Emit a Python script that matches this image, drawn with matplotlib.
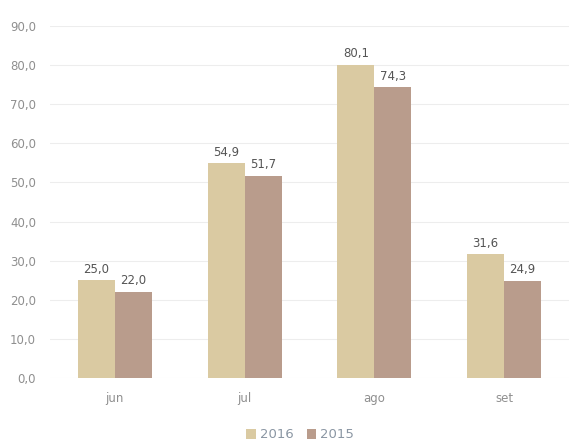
import numpy as np
from matplotlib import pyplot as plt

# data
months = ["jun", "jul", "ago", "set"]
series_names = ["2016", "2015"]
vals_2016 = [25.0, 54.9, 80.1, 31.6]
vals_2015 = [22.0, 51.7, 74.3, 24.9]
yticks = [0, 10, 20, 30, 40, 50, 60, 70, 80, 90]

c2016 = "#dacaa2"
c2015 = "#b99c8c"
txt = "#8f8f8f"

def fmt(v):
    return ("%.1f" % v).replace(".", ",")

fig = plt.figure(figsize=(5.69, 4.45), dpi=100)
ax = fig.add_axes([50 / 569, 1 - 378 / 445, 519 / 569, (378 - 26) / 445])

x = np.arange(len(months))
w = 0.285
b1 = ax.bar(x - w / 2, vals_2016, w, color=c2016, label=series_names[0], zorder=2)
b2 = ax.bar(x + w / 2, vals_2015, w, color=c2015, label=series_names[1], zorder=2)

for bars, vals in [(b1, vals_2016), (b2, vals_2015)]:
    for r, v in zip(bars, vals):
        ax.text(r.get_x() + r.get_width() / 2, v + 1.2, fmt(v), ha="center", va="bottom",
                fontsize=8.5, color="#555555")

ax.set_xlim(-0.5, 3.5)
ax.set_ylim(0, 90)
ax.set_yticks(yticks)
ax.set_yticklabels([fmt(t) for t in yticks])
ax.set_xticks(x)
ax.set_xticklabels(months)
ax.tick_params(axis="both", length=0, labelsize=8.5, colors=txt)
ax.tick_params(axis="y", pad=10)
ax.tick_params(axis="x", pad=10)
ax.grid(axis="y", color="#ededed", linewidth=0.8, zorder=0)
for s in ax.spines.values():
    s.set_visible(False)

fig.legend(handles=[b1, b2], loc="center", bbox_to_anchor=(300 / 569, 1 - 435 / 445),
           ncol=2, frameon=False, fontsize=9.5, labelcolor="#8a96a3", handlelength=0.7,
           handleheight=0.7, handletextpad=0.3, columnspacing=1.0)

fig.savefig("out.png", dpi=100)
